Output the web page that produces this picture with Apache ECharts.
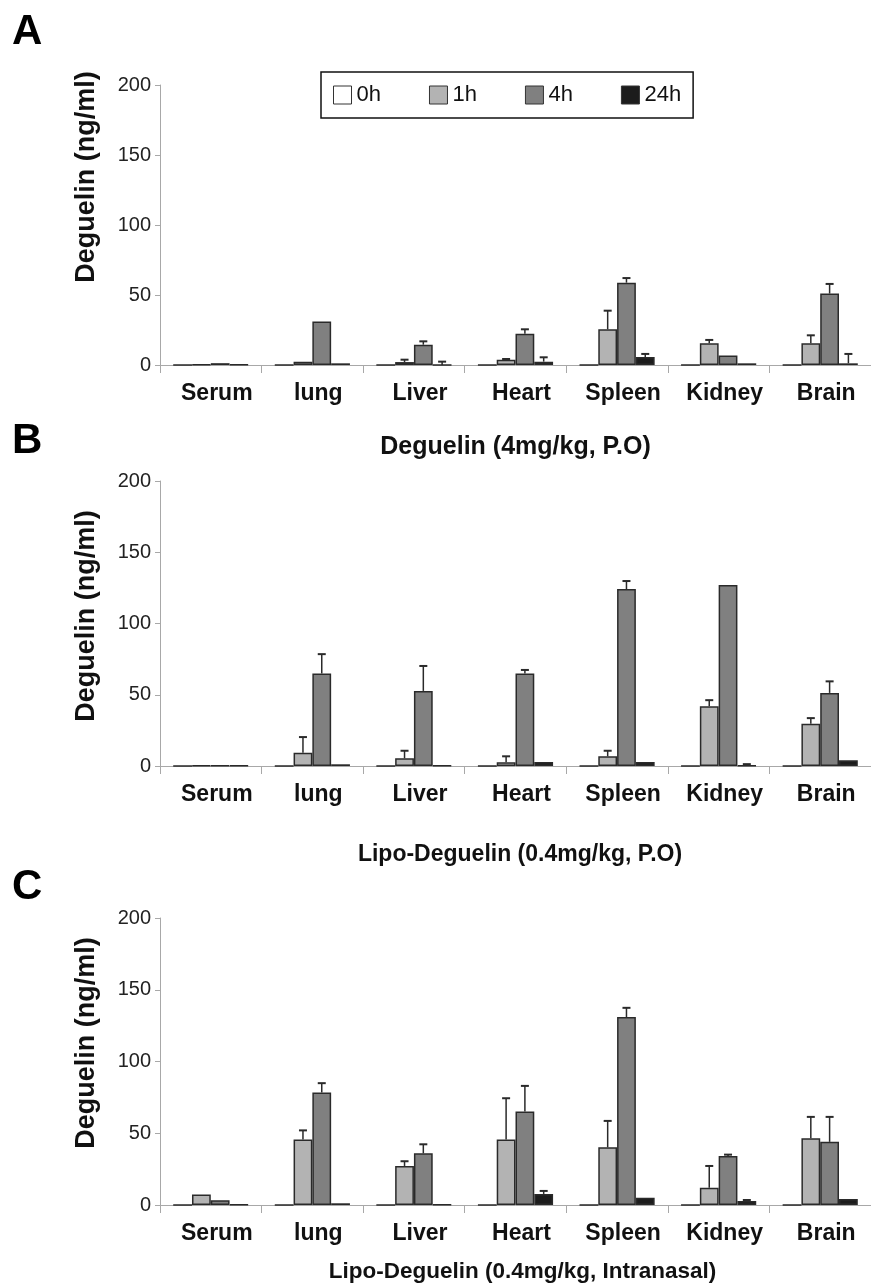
<!DOCTYPE html>
<html>
<head>
<meta charset="utf-8">
<script src="https://cdn.jsdelivr.net/npm/echarts@6/dist/echarts.min.js"></script>
<style>
html,body{margin:0;padding:0;background:#fff;}
#chart{width:871px;height:1288px;}
</style>
</head>
<body>
<div id="chart"></div>
<script>
const categories = ['Serum', 'lung', 'Liver', 'Heart', 'Spleen', 'Kidney', 'Brain'];
const seriesNames = ['0h', '1h', '4h', '24h'];
const yTicks = [0, 50, 100, 150, 200];

// Panel A: Deguelin (4mg/kg, P.O)
const A_0h = [0, 0, 0, 0, 0, 0, 0];
const A_1h = [0.3, 2.4, 2.1, 3.8, 25.5, 15.5, 15.5];
const A_4h = [1.3, 31, 14.5, 22.4, 58.8, 6.7, 51];
const A_24h = [0.3, 1.2, 0, 2.4, 5.7, 1.2, 1.2];
const A_0h_err = [null, null, null, null, null, null, null];
const A_1h_err = [null, null, 1.7, 0.5, 13.3, 2.4, 5.7];
const A_4h_err = [null, null, 2.4, 3.1, 3.3, null, 6.9];
const A_24h_err = [null, null, 2.4, 3.1, 2.2, null, 6.7];

// Panel B: Lipo-Deguelin (0.4mg/kg, P.O)
const B_0h = [0, 0, 0, 0, 0, 0, 0];
const B_1h = [0.3, 9.3, 5.4, 2.6, 6.8, 42, 29.6];
const B_4h = [0.3, 65, 52.7, 65, 124.2, 127, 51.3];
const B_24h = [0.3, 1.2, 0.3, 2.8, 2.8, 0.3, 4];
const B_0h_err = [null, null, null, null, null, null, null];
const B_1h_err = [null, 11, 5.3, 4.2, 3.9, 4.2, 4];
const B_4h_err = [null, 13.5, 17.5, 2.4, 5.6, null, 8.1];
const B_24h_err = [null, null, null, null, null, 1, null];

// Panel C: Lipo-Deguelin (0.4mg/kg, Intranasal)
const C_0h = [0, 0, 0, 0, 0, 0, 0];
const C_1h = [7.4, 45.6, 27.2, 45.6, 40.2, 12.1, 46.5];
const C_4h = [3.3, 78.4, 36, 65.1, 131, 34.2, 44];
const C_24h = [0.3, 1.2, 0.3, 7.7, 5.1, 2.8, 4.2];
const C_0h_err = [null, null, null, null, null, null, null];
const C_1h_err = [null, 6.4, 3.3, 28.8, 18.4, 15.1, 14.9];
const C_4h_err = [null, 6.5, 6.3, 17.9, 6.4, 0.9, 17.4];
const C_24h_err = [null, null, null, 2.1, null, 0.7, null];

const panelTitles = ['Deguelin (4mg/kg, P.O)', 'Lipo-Deguelin (0.4mg/kg, P.O)', 'Lipo-Deguelin (0.4mg/kg, Intranasal)'];
const panelLetters = ['A', 'B', 'C'];
const yName = 'Deguelin (ng/ml)';

const panels = [
  { vals: [A_0h, A_1h, A_4h, A_24h], errs: [A_0h_err, A_1h_err, A_4h_err, A_24h_err] },
  { vals: [B_0h, B_1h, B_4h, B_24h], errs: [B_0h_err, B_1h_err, B_4h_err, B_24h_err] },
  { vals: [C_0h, C_1h, C_4h, C_24h], errs: [C_0h_err, C_1h_err, C_4h_err, C_24h_err] }
];

const colors = ['#ffffff', '#b3b3b3', '#808080', '#1c1c1c'];
const FONT = '"Liberation Sans", Arial, sans-serif';
const CAT_GAP = 0.26;

const gridDefs = [
  { top: 85, height: 280, titleGap: 70, titleSize: 25, titleShift: 0 },
  { top: 481, height: 285, titleGap: 77, titleSize: 23, titleShift: 9 },
  { top: 918, height: 287, titleGap: 55, titleSize: 22.5, titleShift: 14 }
];

const chart = echarts.init(document.getElementById('chart'), null, { renderer: 'canvas' });

const grids = [], xAxes = [], yAxes = [], series = [];
gridDefs.forEach((g, p) => {
  grids.push({ left: 160, right: -3, top: g.top, height: g.height });
  xAxes.push({
    type: 'category', gridIndex: p, data: categories,
    axisLine: { lineStyle: { color: '#a8a8a8', width: 1 } },
    axisTick: { show: true, length: 8, lineStyle: { color: '#a8a8a8' } },
    axisLabel: { color: '#111', fontFamily: FONT, fontWeight: 'bold', fontSize: 23, margin: 17, padding: [0, 0, 0, 12] },
    name: panelTitles[p], nameLocation: 'middle', nameGap: g.titleGap,
    nameTextStyle: { color: '#111', fontFamily: FONT, fontWeight: 'bold', fontSize: g.titleSize, padding: [0, 0, 0, g.titleShift] }
  });
  yAxes.push({
    type: 'value', gridIndex: p, min: yTicks[0], max: yTicks[yTicks.length - 1], interval: 50,
    axisLine: { show: true, lineStyle: { color: '#a8a8a8', width: 1 } },
    axisTick: { show: true, length: 5, lineStyle: { color: '#a8a8a8' } },
    axisLabel: { color: '#222', fontFamily: FONT, fontSize: 20, margin: 9 },
    splitLine: { show: false }
  });
  seriesNames.forEach((nm, s) => {
    series.push({
      type: 'bar', name: nm, xAxisIndex: p, yAxisIndex: p,
      data: panels[p].vals[s],
      barGap: '0%', barCategoryGap: (CAT_GAP * 100) + '%',
      itemStyle: { color: colors[s], borderColor: '#2a2a2a', borderWidth: 1.5 },
      emphasis: { disabled: true },
      animation: false
    });
  });
  const errData = [];
  seriesNames.forEach((nm, s) => {
    panels[p].errs[s].forEach((e, c) => {
      if (e !== null) errData.push([c, s, panels[p].vals[s][c], e]);
    });
  });
  series.push({
    type: 'custom', xAxisIndex: p, yAxisIndex: p, data: errData, z: 5, animation: false,
    renderItem: function (params, api) {
      const c = api.value(0), s = api.value(1), v = api.value(2), e = api.value(3);
      const band = api.size([1, 0])[0];
      const bw = band * (1 - CAT_GAP) / 4;
      const base = api.coord([c, v]);
      const top = api.coord([c, v + e]);
      const x = base[0] + (s - 1.5) * bw;
      return {
        type: 'group', children: [
          { type: 'line', shape: { x1: x, y1: base[1], x2: x, y2: top[1] }, style: { stroke: '#2a2a2a', lineWidth: 1.5 } },
          { type: 'line', shape: { x1: x - 4, y1: top[1], x2: x + 4, y2: top[1] }, style: { stroke: '#2a2a2a', lineWidth: 2 } }
        ]
      };
    }
  });
});

const graphics = [];
const letterY = [11, 420, 866];
const yNameCenters = [177, 616, 1043];
for (let p = 0; p < 3; p++) {
  graphics.push({
    type: 'text', left: 12, top: letterY[p],
    style: { text: panelLetters[p], font: 'bold 42px ' + FONT, fill: '#000' }
  });
  graphics.push({
    type: 'text', x: 87, y: yNameCenters[p], rotation: Math.PI / 2,
    style: { text: yName, font: 'bold 27px ' + FONT, fill: '#111', align: 'center', verticalAlign: 'middle' }
  });
}

chart.setOption({
  backgroundColor: '#fff',
  animation: false,
  grid: grids,
  xAxis: xAxes,
  yAxis: yAxes,
  legend: {
    data: seriesNames, left: 321, top: 72,
    padding: [12, 12, 12, 12], itemGap: 48, itemWidth: 18, itemHeight: 18,
    borderColor: '#111', borderWidth: 1.5,
    icon: 'rect',
    itemStyle: { borderColor: '#333', borderWidth: 1 },
    textStyle: { fontFamily: FONT, fontSize: 22, color: '#111' },
    selectedMode: false
  },
  graphic: graphics,
  series: series
});
</script>
</body>
</html>
